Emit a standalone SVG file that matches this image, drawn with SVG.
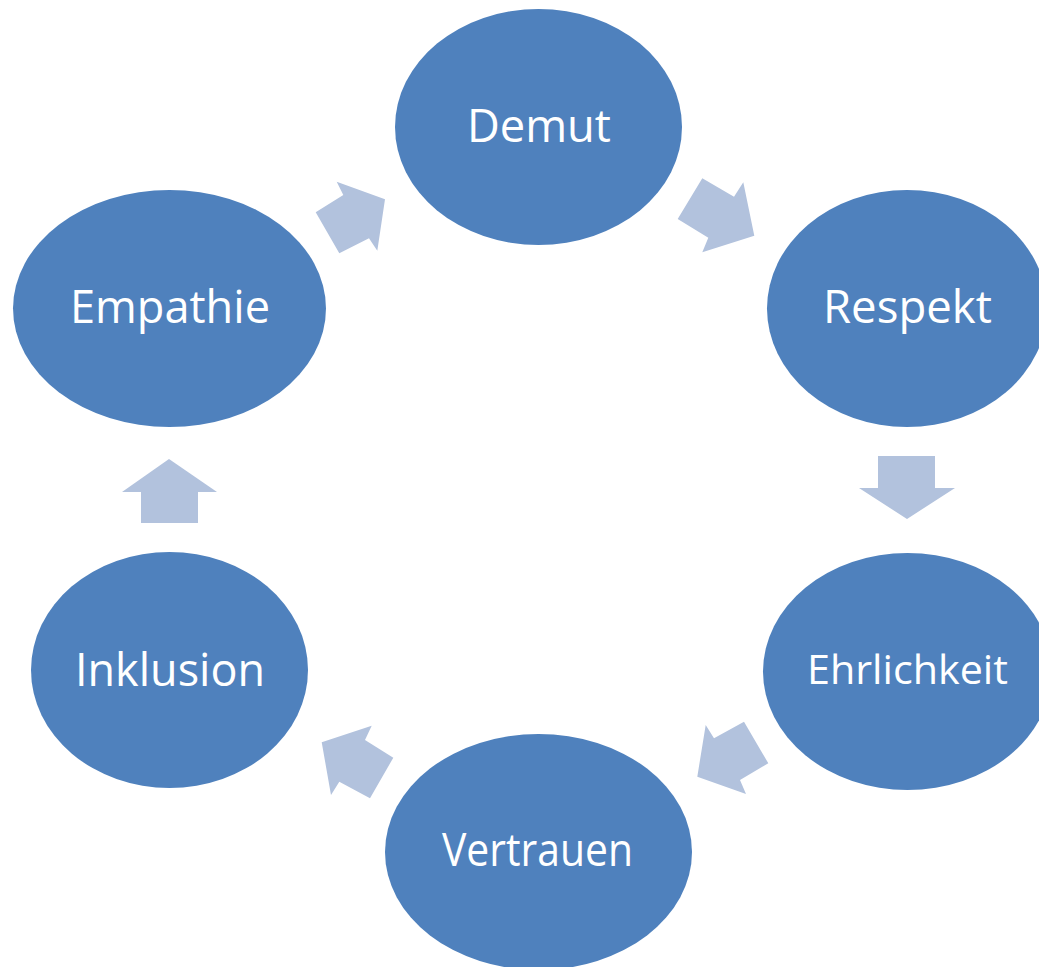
<svg xmlns="http://www.w3.org/2000/svg" width="1039" height="967" viewBox="0 0 1039 967">
<style>
.node{fill:#4F81BD}
.lbl{fill:#FFFFFF;font-family:"Open Sans","Noto Sans","Liberation Sans",sans-serif;font-size:45px;text-anchor:middle}
.arr{fill:#B2C2DD}
</style>
<rect width="1039" height="967" fill="#FFFFFF"/>
<g id="connectors">
<polygon class="arr" points="315.7,212.3 343.3,195 336.7,181.7 385,199.3 377.3,250.7 369,238.3 339.3,253.3"/>
<polygon class="arr" points="702.3,178.3 734,196.7 743.3,182.3 754.3,235.7 702.3,252.3 708.3,237.7 677.7,219"/>
<polygon class="arr" points="878,456 935,456 935,488 955,488 907,519 859,488 878,488"/>
<polygon class="arr" points="705.7,725 714,738.3 744,721.7 768.3,763.3 740,780 746,794 697.3,776.7"/>
<polygon class="arr" points="371.7,725.7 365,740 393.3,757.7 370,798.3 339.3,781.7 331,795 321.7,742.3"/>
<polygon class="arr" points="169,459 217,492 198,492 198,523 141,523 141,492 122,492"/>
</g>
<g id="demut">
<ellipse class="node" cx="538.5" cy="127" rx="143.5" ry="118"/>
<text class="lbl" x="539" y="142" textLength="144" lengthAdjust="spacingAndGlyphs">Demut</text>
</g>
<g id="respekt">
<ellipse class="node" cx="907" cy="308.5" rx="140" ry="118.5"/>
<text class="lbl" x="907.5" y="323" textLength="169" lengthAdjust="spacingAndGlyphs">Respekt</text>
</g>
<g id="ehrlichkeit">
<ellipse class="node" cx="907.5" cy="671.5" rx="144.5" ry="118.5"/>
<text class="lbl" x="907.5" y="684" style="font-size:41px" textLength="201" lengthAdjust="spacingAndGlyphs">Ehrlichkeit</text>
</g>
<g id="vertrauen">
<ellipse class="node" cx="538.5" cy="852" rx="153.5" ry="118"/>
<text class="lbl" x="537.5" y="866" textLength="191" lengthAdjust="spacingAndGlyphs">Vertrauen</text>
</g>
<g id="inklusion">
<ellipse class="node" cx="169.5" cy="670" rx="138.5" ry="118"/>
<text class="lbl" x="170" y="686" textLength="190" lengthAdjust="spacingAndGlyphs">Inklusion</text>
</g>
<g id="empathie">
<ellipse class="node" cx="169.5" cy="308.5" rx="156.5" ry="118.5"/>
<text class="lbl" x="170" y="323" textLength="200" lengthAdjust="spacingAndGlyphs">Empathie</text>
</g>
</svg>
